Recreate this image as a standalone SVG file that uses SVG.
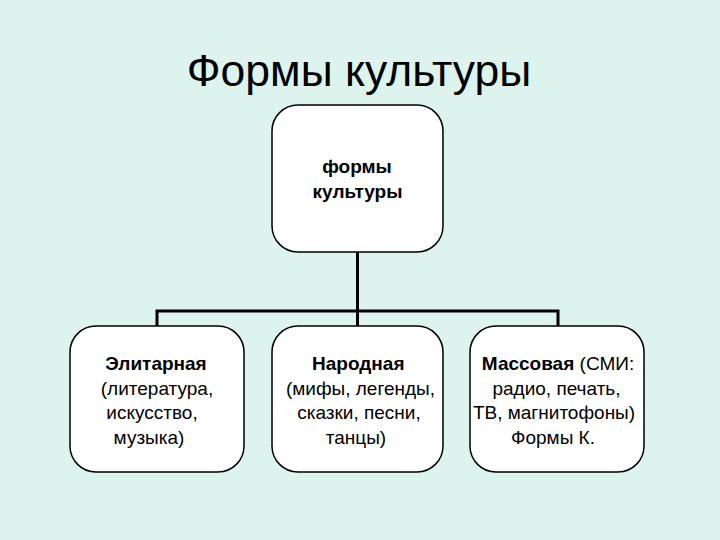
<svg xmlns="http://www.w3.org/2000/svg" width="720" height="540" viewBox="0 0 720 540">
<style>
.box{fill:#fff;stroke:#000;stroke-width:1.5}
.t{font-family:"Liberation Sans",Arial,sans-serif;font-size:19px;fill:#000;text-anchor:middle}
.b{font-weight:bold}
.conn{fill:none;stroke:#000;stroke-width:3}
</style>
<rect width="720" height="540" fill="#DDF3EE"/>
<text x="359" y="86" font-family="Liberation Sans, Arial, sans-serif" font-size="44.5" text-anchor="middle" fill="#000">Формы культуры</text>
<g id="connectors">
<path class="conn" d="M357.5 252V326M157 326V311H558V326"/>
</g>
<g id="root">
<rect class="box" x="272" y="105" width="171" height="147" rx="26"/>
<text class="t b" x="357" y="173">формы</text>
<text class="t b" x="357.5" y="198">культуры</text>
</g>
<g id="elite">
<rect class="box" x="70" y="326" width="174" height="146" rx="26"/>
<text class="t b" x="156" y="370">Элитарная</text>
<text class="t" x="157" y="394.5">(литература,</text>
<text class="t" x="152" y="419">искусство,</text>
<text class="t" x="149" y="443.5">музыка)</text>
</g>
<g id="folk">
<rect class="box" x="272" y="326" width="171" height="146" rx="26"/>
<text class="t b" x="358.3" y="370">Народная</text>
<text class="t" x="360.5" y="394.5">(мифы, легенды,</text>
<text class="t" x="359" y="419">сказки, песни,</text>
<text class="t" x="356" y="443.5">танцы)</text>
</g>
<g id="mass">
<rect class="box" x="470" y="326" width="174" height="146" rx="26"/>
<text class="t" x="558" y="370"><tspan class="b">Массовая</tspan> (СМИ:</text>
<text class="t" x="556.5" y="394.5">радио, печать,</text>
<text class="t" x="554" y="419">ТВ, магнитофоны)</text>
<text class="t" x="553" y="443.5">Формы К.</text>
</g>
</svg>
